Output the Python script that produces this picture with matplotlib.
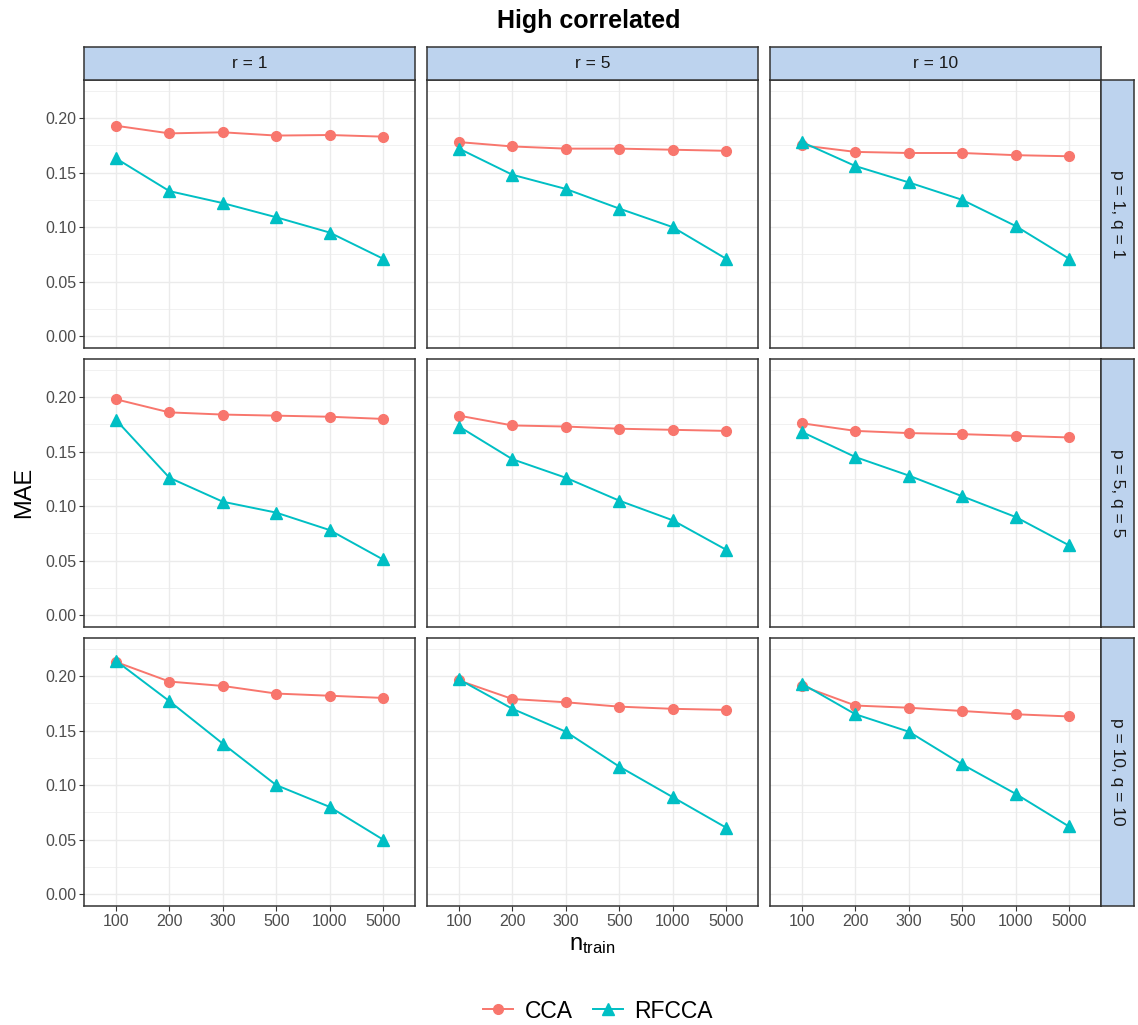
import matplotlib
matplotlib.use("Agg")
import matplotlib.pyplot as plt
import numpy as np

plt.rcParams['font.family'] = ['Liberation Sans', 'DejaVu Sans']

# data
n_train = ['100', '200', '300', '500', '1000', '5000']
r_labels = ['r = 1', 'r = 5', 'r = 10']
pq_labels = ['p = 1, q = 1', 'p = 5, q = 5', 'p = 10, q = 10']

# rows: p/q settings, columns: r
cca = [
    [[0.193, 0.186, 0.187, 0.184, 0.1845, 0.183],
     [0.178, 0.174, 0.172, 0.172, 0.171, 0.170],
     [0.175, 0.169, 0.168, 0.168, 0.166, 0.165]],
    [[0.198, 0.186, 0.184, 0.183, 0.182, 0.180],
     [0.183, 0.174, 0.173, 0.171, 0.170, 0.169],
     [0.176, 0.169, 0.167, 0.166, 0.1645, 0.163]],
    [[0.213, 0.195, 0.191, 0.184, 0.182, 0.180],
     [0.196, 0.179, 0.176, 0.172, 0.170, 0.169],
     [0.191, 0.173, 0.171, 0.168, 0.165, 0.163]],
]
rfcca = [
    [[0.163, 0.133, 0.122, 0.109, 0.095, 0.071],
     [0.172, 0.148, 0.135, 0.117, 0.100, 0.071],
     [0.178, 0.156, 0.141, 0.125, 0.101, 0.071]],
    [[0.179, 0.126, 0.104, 0.094, 0.078, 0.051],
     [0.173, 0.143, 0.126, 0.105, 0.087, 0.060],
     [0.168, 0.145, 0.128, 0.109, 0.090, 0.064]],
    [[0.214, 0.177, 0.138, 0.100, 0.080, 0.050],
     [0.197, 0.170, 0.149, 0.117, 0.089, 0.061],
     [0.193, 0.165, 0.149, 0.119, 0.092, 0.062]],
]

W, H = 1138, 1025
fig = plt.figure(figsize=(W / 100, H / 100), dpi=100)

def box(x, y, w, h):
    # pixel box (top-left origin) -> figure fraction rect
    return [x / W, 1 - (y + h) / H, w / W, h / H]

col_x = [84, 427, 770]
row_y = [80, 359, 638]
pw, ph = 331, 268
strip = 33
strip_col = '#BDD3EE'
border = '#333333'
red, teal = '#F8766D', '#00BFC4'
xpos = np.arange(1, len(n_train) + 1)

for i in range(3):
    for j in range(3):
        ax = fig.add_axes(box(col_x[j], row_y[i], pw, ph))
        ax.set_xlim(0.4, 6.6)
        ax.set_ylim(-0.011, 0.235)
        ax.set_yticks(np.arange(0, 0.21, 0.05))
        ax.set_yticks(np.arange(0.025, 0.23, 0.05), minor=True)
        ax.set_xticks(xpos)
        ax.grid(True, which='major', color='#EBEBEB', linewidth=1.0)
        ax.grid(True, which='minor', axis='y', color='#EBEBEB', linewidth=0.5)
        ax.set_axisbelow(True)
        ax.tick_params(which='minor', length=0)
        ax.tick_params(which='major', length=3.5, width=0.8, color='#333333',
                       labelcolor='#4D4D4D', labelsize=11.5, pad=2)
        for s in ax.spines.values():
            s.set_color(border)
            s.set_linewidth(1.1)
        if j == 0:
            ax.set_yticklabels(['0.00', '0.05', '0.10', '0.15', '0.20'])
        else:
            ax.tick_params(axis='y', length=0, labelleft=False)
        if i == 2:
            ax.set_xticklabels(n_train)
        else:
            ax.tick_params(axis='x', length=0, labelbottom=False)

        ax.plot(xpos, cca[i][j], color=red, lw=1.4, marker='o', ms=7,
                label='CCA', zorder=3)
        ax.plot(xpos, rfcca[i][j], color=teal, lw=1.4, marker='^', ms=8.5,
                label='RFCCA', zorder=3)

        if i == 0:
            sa = fig.add_axes(box(col_x[j], row_y[0] - strip, pw, strip))
            sa.set_facecolor(strip_col)
            sa.set_xticks([]); sa.set_yticks([])
            for s in sa.spines.values():
                s.set_color(border); s.set_linewidth(1.1)
            sa.text(0.5, 0.5, r_labels[j], ha='center', va='center',
                    fontsize=12.5, color='#1A1A1A', transform=sa.transAxes)
        if j == 2:
            sa = fig.add_axes(box(col_x[2] + pw, row_y[i], strip, ph))
            sa.set_facecolor(strip_col)
            sa.set_xticks([]); sa.set_yticks([])
            for s in sa.spines.values():
                s.set_color(border); s.set_linewidth(1.1)
            sa.text(0.5, 0.5, pq_labels[i], ha='center', va='center',
                    rotation=-90, fontsize=12.5, color='#1A1A1A',
                    transform=sa.transAxes)

        if i == 0 and j == 0:
            handles, labels = ax.get_legend_handles_labels()

fig.text(589 / W, 1 - 21 / H, 'High correlated', ha='center', va='center',
         fontsize=18, fontweight='bold')
fig.text(24 / W, 1 - 492 / H, 'MAE', ha='center', va='center',
         rotation=90, fontsize=17)
fig.text(592 / W, 1 - 945 / H, r'$\mathregular{n_{train}}$', ha='center',
         va='center', fontsize=17)

fig.legend(handles, labels, loc='center', bbox_to_anchor=(598 / W, 1 - 1011 / H),
           ncol=2, frameon=False, fontsize=16.5, handlelength=1.3,
           columnspacing=0.9, handletextpad=0.5)

fig.savefig('out.png', dpi=100)
